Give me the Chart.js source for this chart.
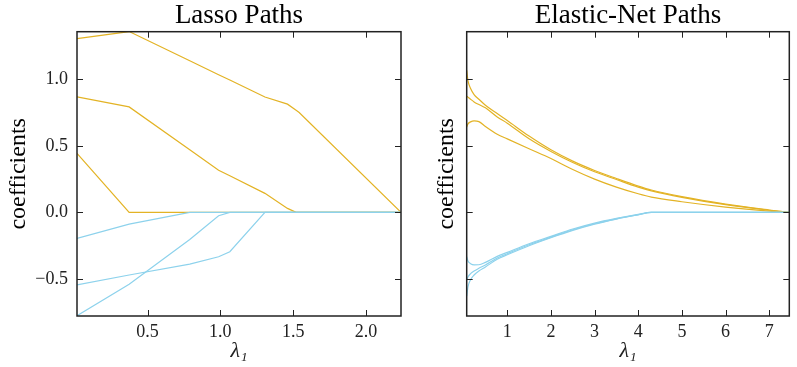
<!DOCTYPE html>
<html>
<head>
<meta charset="utf-8">
<script src="https://cdn.jsdelivr.net/npm/chart.js@4.4.1/dist/chart.umd.min.js"></script>
<style>
  body { margin: 0; background: #fff; }
  #lassoBox { position: absolute; left: 0; top: 0; }
  #enetBox { position: absolute; left: 410px; top: 0; }
</style>
</head>
<body>
<div id="lassoBox"><canvas id="lassoChart" width="410" height="367"></canvas></div>
<div id="enetBox"><canvas id="enetChart" width="387" height="367"></canvas></div>
<script>
// Lasso paths: lambda grid and coefficient values
var lassoLambda = [0.016, 0.374, 0.79, 0.988, 1.065, 1.306, 1.461, 1.52, 1.541, 2.24];
var lassoPos1 = [1.305, 1.358, 1.139, 1.034, 0.994, 0.867, 0.813, 0.767, 0.75, 0];
var lassoPos2 = [0.867, 0.792, 0.47, 0.317, 0.275, 0.143, 0.03, 0, 0, 0];
var lassoPos3 = [0.443, 0, 0, 0, 0, 0, 0, 0, 0, 0];
var lassoNeg1 = [-0.195, -0.088, 0, 0, 0, 0, 0, 0, 0, 0];
var lassoNeg2 = [-0.545, -0.47, -0.388, -0.333, -0.295, 0, 0, 0, 0, 0];
var lassoNeg3 = [-0.776, -0.54, -0.203, -0.025, 0, 0, 0, 0, 0, 0];

// Elastic-net paths
var enetLambda = [0.071, 0.1, 0.16, 0.24, 0.35, 0.5, 0.77, 1.0, 1.5, 2.0, 2.5, 3.0, 3.5, 4.0, 4.3, 5.0, 6.0, 7.0, 7.46];
var enetPos1 = [1.067, 0.99, 0.93, 0.885, 0.85, 0.805, 0.742, 0.69, 0.573, 0.47, 0.385, 0.315, 0.255, 0.198, 0.168, 0.118, 0.062, 0.018, 0];
var enetPos2 = [0.872, 0.865, 0.85, 0.83, 0.81, 0.785, 0.717, 0.67, 0.553, 0.458, 0.375, 0.305, 0.247, 0.19, 0.162, 0.113, 0.058, 0.016, 0];
var enetPos3 = [0.642, 0.665, 0.68, 0.687, 0.682, 0.645, 0.587, 0.552, 0.478, 0.405, 0.322, 0.25, 0.19, 0.14, 0.115, 0.08, 0.04, 0.01, 0];
var enetNeg1 = [-0.333, -0.365, -0.385, -0.394, -0.393, -0.375, -0.33, -0.3, -0.235, -0.18, -0.125, -0.08, -0.045, -0.015, 0, 0, 0, 0, 0];
var enetNeg2 = [-0.51, -0.485, -0.46, -0.44, -0.42, -0.395, -0.343, -0.31, -0.243, -0.186, -0.13, -0.085, -0.048, -0.017, 0, 0, 0, 0, 0];
var enetNeg3 = [-0.63, -0.56, -0.505, -0.47, -0.44, -0.41, -0.352, -0.318, -0.25, -0.19, -0.135, -0.088, -0.05, -0.018, 0, 0, 0, 0, 0];

// tick labels
var coefTicks = [-0.5, 0, 0.5, 1.0];
var lassoXTicks = [0.5, 1.0, 1.5, 2.0];
var enetXTicks = [1, 2, 3, 4, 5, 6, 7];

var yellow = "#E3B325";
var blue = "#8DD2EC";
var serif = "'Liberation Serif', 'DejaVu Serif', serif";

function pts(xs, ys) {
  return xs.map(function (x, i) { return { x: x, y: ys[i] }; });
}

function line(xs, ys, color, smooth) {
  return {
    data: pts(xs, ys),
    borderColor: color,
    borderWidth: 1.2,
    pointRadius: 0,
    fill: false,
    cubicInterpolationMode: smooth ? "monotone" : "default",
    tension: 0,
  };
}

// inward ticks on all four sides plus the frame, like matplotlib classic
var frameTicks = {
  id: "frameTicks",
  afterDraw: function (chart) {
    var ctx = chart.ctx, a = chart.chartArea, len = 6;
    var xs = chart.scales.x, ys = chart.scales.y;
    ctx.save();
    ctx.strokeStyle = "#222";
    ctx.lineWidth = 1;
    ctx.beginPath();
    xs.ticks.forEach(function (t) {
      var px = Math.round(xs.getPixelForValue(t.value)) + 0.5;
      ctx.moveTo(px, a.bottom); ctx.lineTo(px, a.bottom - len);
      ctx.moveTo(px, a.top); ctx.lineTo(px, a.top + len);
    });
    ys.ticks.forEach(function (t) {
      var py = Math.round(ys.getPixelForValue(t.value)) + 0.5;
      ctx.moveTo(a.left, py); ctx.lineTo(a.left + len, py);
      ctx.moveTo(a.right, py); ctx.lineTo(a.right - len, py);
    });
    ctx.stroke();
    ctx.lineWidth = 1.5;
    ctx.strokeRect(a.left, a.top, a.right - a.left, a.bottom - a.top);
    ctx.restore();
  },
};

function makeOptions(cfg) {
  return {
    responsive: false,
    animation: false,
    layout: { padding: { left: 0, right: cfg.padRight, top: 0, bottom: 0 } },
    plugins: {
      legend: { display: false },
      tooltip: { enabled: false },
      title: {
        display: true,
        text: cfg.title,
        fullSize: false,
        color: "#000",
        font: { family: serif, size: 27, weight: "normal", lineHeight: 1.1 },
        padding: { top: 1.5, bottom: 0.5 },
      },
    },
    scales: {
      x: {
        type: "linear",
        min: cfg.xMin,
        max: cfg.xMax,
        afterBuildTicks: function (scale) {
          scale.ticks = cfg.xTicks.map(function (v) { return { value: v }; });
        },
        afterFit: function (scale) { scale.height = 51; },
        grid: { display: false, drawTicks: false },
        border: { display: false },
        ticks: {
          padding: 5,
          color: "#222",
          maxRotation: 0,
          font: { family: serif, size: 18 },
          callback: cfg.xFormat,
        },
        title: {
          display: true,
          text: "λ₁",
          color: "#222",
          font: { family: serif, size: 22, style: "italic", lineHeight: 1.2 },
          padding: { top: 0, bottom: 2.5 },
        },
      },
      y: {
        type: "linear",
        min: -0.778,
        max: 1.357,
        afterBuildTicks: function (scale) {
          scale.ticks = coefTicks.map(function (v) { return { value: v }; });
        },
        afterFit: function (scale) { scale.width = cfg.yWidth; },
        grid: { display: false, drawTicks: false },
        border: { display: false },
        ticks: {
          display: cfg.yLabels,
          padding: 9,
          color: "#222",
          font: { family: serif, size: 18 },
          callback: function (v) { return v.toFixed(1).replace("-", "−"); },
        },
        title: {
          display: true,
          text: "coefficients",
          color: "#000",
          font: { family: serif, size: 24, lineHeight: 1.2 },
          padding: { top: cfg.yTitlePad, bottom: 0 },
        },
      },
    },
  };
}

new Chart(document.getElementById("lassoChart").getContext("2d"), {
  type: "line",
  data: {
    datasets: [
      line(lassoLambda, lassoNeg1, blue, false),
      line(lassoLambda, lassoNeg2, blue, false),
      line(lassoLambda, lassoNeg3, blue, false),
      line(lassoLambda, lassoPos1, yellow, false),
      line(lassoLambda, lassoPos2, yellow, false),
      line(lassoLambda, lassoPos3, yellow, false),
    ],
  },
  options: makeOptions({
    title: "Lasso Paths",
    xMin: 0.016, xMax: 2.24,
    xTicks: lassoXTicks,
    xFormat: function (v) { return v.toFixed(1); },
    yWidth: 77, yLabels: true, yTitlePad: 4.6, padRight: 9,
  }),
  plugins: [frameTicks],
});

new Chart(document.getElementById("enetChart").getContext("2d"), {
  type: "line",
  data: {
    datasets: [
      line(enetLambda, enetNeg1, blue, true),
      line(enetLambda, enetNeg2, blue, true),
      line(enetLambda, enetNeg3, blue, true),
      line(enetLambda, enetPos1, yellow, true),
      line(enetLambda, enetPos2, yellow, true),
      line(enetLambda, enetPos3, yellow, true),
    ],
  },
  options: makeOptions({
    title: "Elastic-Net Paths",
    xMin: 0.071, xMax: 7.46,
    xTicks: enetXTicks,
    xFormat: function (v) { return String(v); },
    yWidth: 56.7, yLabels: false, yTitlePad: 22.3, padRight: 7.7,
  }),
  plugins: [frameTicks],
});
</script>
</body>
</html>
